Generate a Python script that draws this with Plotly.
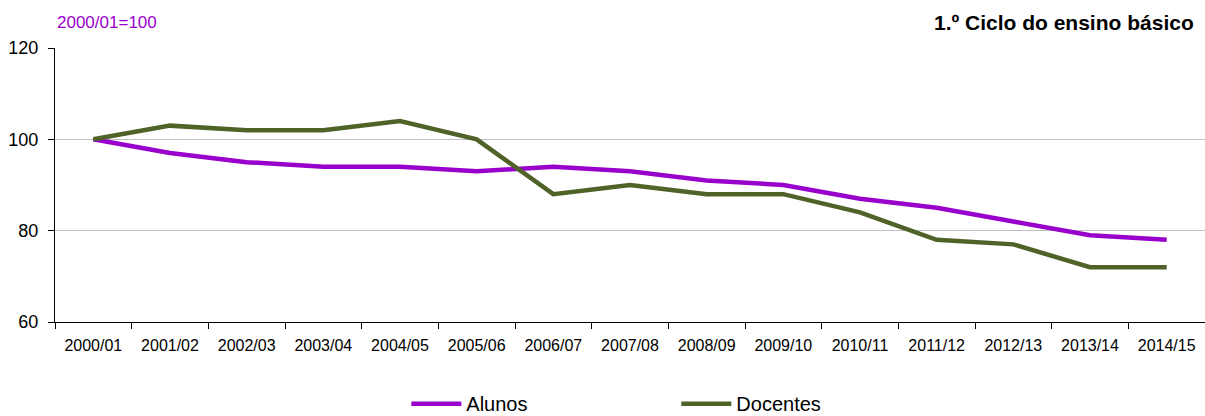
import plotly.graph_objects as go

YEARS = ["2000/01", "2001/02", "2002/03", "2003/04", "2004/05", "2005/06", "2006/07",
         "2007/08", "2008/09", "2009/10", "2010/11", "2011/12", "2012/13", "2013/14", "2014/15"]
ALUNOS = [100, 97, 95, 94, 94, 93, 94, 93, 91, 90, 87, 85, 82, 79, 78]
DOCENTES = [100, 103, 102, 102, 104, 100, 88, 90, 88, 88, 84, 78, 77, 72, 72]

PURPLE = "#9900CC"
OLIVE = "#4F6228"
FONT = "Liberation Sans, Arial, sans-serif"

fig = go.Figure()
fig.add_trace(go.Scatter(x=YEARS, y=ALUNOS, mode="lines", name="Alunos",
                         line=dict(color=PURPLE, width=4.5)))
fig.add_trace(go.Scatter(x=YEARS, y=DOCENTES, mode="lines", name="Docentes",
                         line=dict(color=OLIVE, width=4.5)))

fig.update_layout(
    width=1205, height=416,
    margin=dict(l=55, r=0, t=48, b=94, autoexpand=False),
    paper_bgcolor="white", plot_bgcolor="white",
    font=dict(family=FONT, size=16, color="black"),
    showlegend=True,
    legend=dict(orientation="h", x=0.3055, xanchor="left", y=-0.298, yanchor="middle",
                entrywidth=205, entrywidthmode="pixels", itemwidth=50,
                font=dict(size=20), traceorder="normal"),
    xaxis=dict(type="category", range=[-0.5, 14.5], tickson="boundaries",
               ticks="outside", ticklen=6, tickcolor="black", automargin=False,
               ticklabelstandoff=9,
               showline=True, linecolor="black", linewidth=1,
               showgrid=False, tickfont=dict(size=16), fixedrange=True),
    yaxis=dict(range=[60, 120], dtick=20, ticks="outside", ticklen=6, tickcolor="black",
               showline=True, linecolor="black", linewidth=1, automargin=False,
               ticklabelstandoff=6,
               showgrid=True, gridcolor="#C0C0C0", gridwidth=1,
               zeroline=False, tickfont=dict(size=18), fixedrange=True),
)

fig.add_annotation(text="2000/01=100", xref="paper", yref="paper", x=0.0, y=1.092,
                   xanchor="left", yanchor="middle", showarrow=False,
                   font=dict(color=PURPLE, size=17, family=FONT))
fig.add_annotation(text="<b>1.º Ciclo do ensino básico</b>", xref="paper", yref="paper",
                   x=0.992, y=1.092, xanchor="right", yanchor="middle", showarrow=False,
                   font=dict(color="black", size=21, family=FONT))

# page body has a default 8px margin, drop it so the figure sits at the corner
fig.write_html("out.html", config={"displayModeBar": False},
               post_script="document.body.style.margin='0';")
